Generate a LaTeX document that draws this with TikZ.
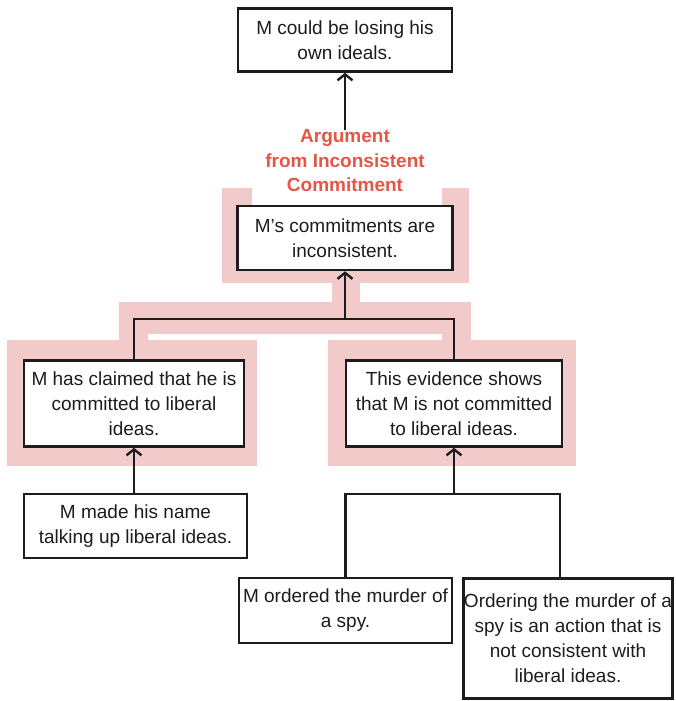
\documentclass[tikz,border=0pt]{standalone}
\usepackage{fontspec}
\setmainfont{Liberation Sans}
\usetikzlibrary{arrows.meta,calc}
\definecolor{pinkhl}{RGB}{243,202,202}
\definecolor{argred}{RGB}{228,86,70}
\definecolor{inkc}{RGB}{28,28,28}
\begin{document}
\begin{tikzpicture}[x=1pt,y=-1pt,
  box/.style={draw=inkc, line width=2.6pt, fill=white, inner sep=0pt, align=center,
    text=inkc, font=\fontsize{19}{25}\selectfont},
  link/.style={draw=inkc, line width=2.8pt},
  arr/.style={link, -{Straight Barb[length=6pt,width=15pt,line width=2.4pt]}},
  hl/.style={fill=pinkhl, draw=none},
  lbl/.style={inner sep=0pt, align=center, text=argred,
    font=\bfseries\fontsize{19}{24.5}\selectfont}
]
\useasboundingbox (0,0) rectangle (675,701);

% pink highlight of the argument structure
\path[hl] (222,188) rectangle (469,283);
\path[hl] (332,282) rectangle (360,303);
\path[hl] (119,302) rectangle (471,334);
\path[hl] (119,333) rectangle (148,341);
\path[hl] (442,333) rectangle (471,341);
\path[hl] (7,340) rectangle (257,466);
\path[hl] (328,340) rectangle (576,466);
\path[fill=white] (252,180) rectangle (442,206);

% nodes
\node[box, minimum width=214pt, minimum height=63pt] (top) at (345,40)
  {M could be losing his\\own ideals.};
\node[lbl] (lab) at (345,161) {Argument\\from Inconsistent\\Commitment};
\node[box, minimum width=215pt, minimum height=64pt] (conc) at (345,238)
  {M’s commitments are\\inconsistent.};
\node[box, minimum width=220pt, minimum height=86pt] (p1) at (134,403.5)
  {M has claimed that he is\\committed to liberal\\ideas.};
\node[box, minimum width=216pt, minimum height=86pt] (p2) at (454,403.5)
  {This evidence shows\\that M is not committed\\to liberal ideas.};
\node[box, minimum width=223pt, minimum height=64pt] (s1) at (135.5,526)
  {M made his name\\talking up liberal ideas.};
\node[box, minimum width=213pt, minimum height=65pt] (s2) at (345.5,610.5)
  {M ordered the murder of\\a spy.};
\node[box, minimum width=209pt, minimum height=120pt] (s3) at (568,638.5)
  {Ordering the murder of a\\spy is an action that is\\not consistent with\\liberal ideas.};

% junctions
\coordinate (j1) at (345,319);
\coordinate (j2) at (454,494);
\coordinate (s3top) at (560,578);

% connectors
\draw[arr] (lab.north) -- (top.south);
\draw[link] (p1.north) |- (j1) -| (p2.north);
\draw[arr] (j1) -- (conc.south);
\draw[arr] (p1.south |- s1.north) -- (p1.south);
\draw[link] (s2.north) |- (j2) -| (s3top);
\draw[arr] (j2) -- (p2.south);
\end{tikzpicture}
\end{document}
